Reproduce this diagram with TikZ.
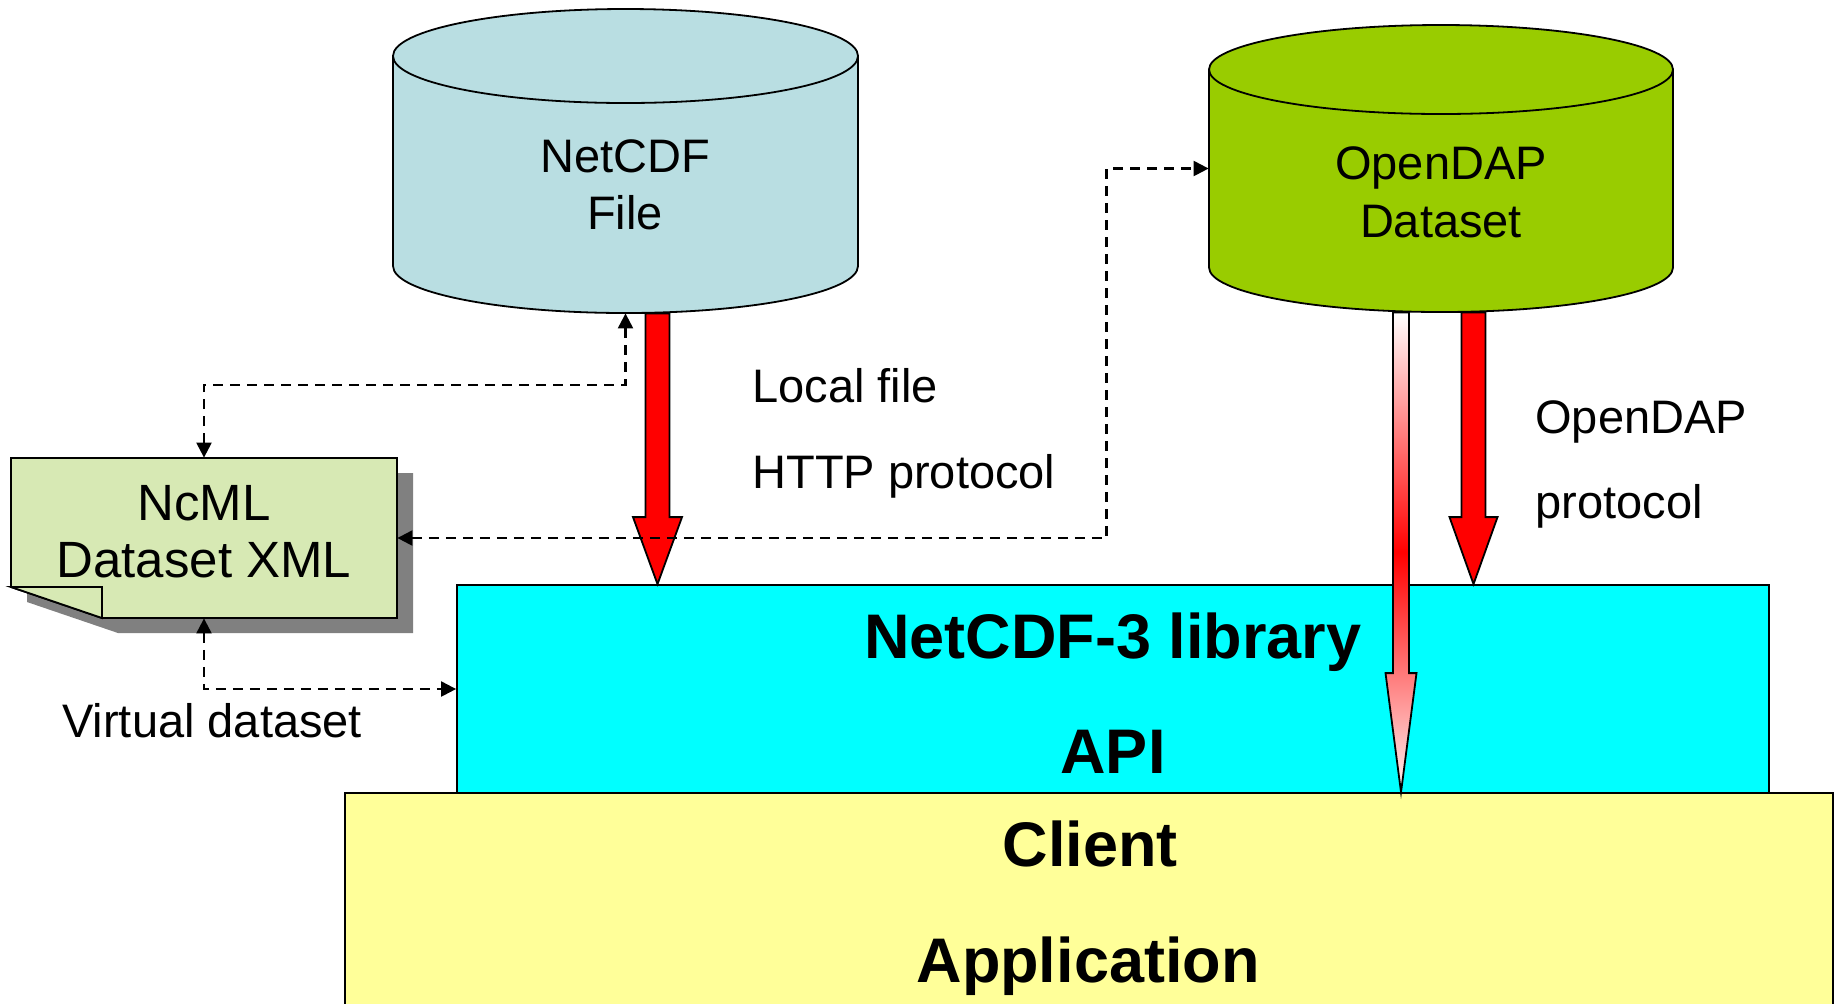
\documentclass[tikz,border=0pt]{standalone}
\usepackage{fontspec}
\setmainfont{Liberation Sans}
\usetikzlibrary{calc}
\usetikzlibrary{arrows.meta}
\definecolor{ncfile}{RGB}{185,222,226}
\definecolor{dapgreen}{RGB}{153,204,0}
\definecolor{ncmlgreen}{RGB}{215,233,180}
\definecolor{apicyan}{RGB}{0,255,255}
\definecolor{clientyellow}{RGB}{255,255,153}
% #1 name, #2 centre x, #3 top, #4 bottom, #5 x radius, #6 y radius, #7 fill
\newcommand{\drum}[7]{ \node[inner sep=0, minimum width={#5pt}, minimum height={(#4-#3)*0.5pt}] (#1) at (#2,{(#3+#4)/2}) {}; \filldraw[fill=#7, line width=0.9pt] ({#2-#5},{#3+#6}) -- ({#2-#5},{#4-#6}) arc[start angle=180, end angle=0, x radius=#5, y radius=#6] -- ({#2+#5},{#3+#6}) -- cycle; \filldraw[fill=#7, line width=0.9pt] (#2,{#3+#6}) ellipse[x radius=#5, y radius=#6];}
% #1 from, #2 tip, #3 half shaft, #4 half head, #5 head length, #6 style
\newcommand{\fatarrow}[6]{ \path[#6] ($(#1)+(-#3,0)$) -- ($(#2)+(-#3,-#5)$) -- ($(#2)+(-#4,-#5)$) -- (#2) -- ($(#2)+(#4,-#5)$) -- ($(#2)+(#3,-#5)$) -- ($(#1)+(#3,0)$) -- cycle;}

\begin{document}
\begin{tikzpicture}[x=0.5pt, y=-0.5pt,
    box/.style={draw, line width=0.9pt, inner sep=0},
    dashlink/.style={dash pattern=on 5pt off 3.5pt, line width=1.1pt, <->, >={Triangle[length=7.5pt,width=7.5pt]}},
    plain/.style={font=\fontsize{23.5}{28}\selectfont, inner sep=0},
    heavy/.style={font=\fontsize{31.5}{36}\selectfont\bfseries, inner sep=0},
    doc/.style={font=\fontsize{25.5}{30}\selectfont, inner sep=0},
    redarrow/.style={fill=red, draw, line width=0.9pt},
    fadearrow/.style={draw, line width=0.9pt, top color=white, bottom color=red!6, middle color=red}]
        \useasboundingbox (0,0) rectangle (1839,1003);
        \clip (0,0) rectangle (1839,1003);
        % stores
        \drum{netcdf}{625.5}{9}{313}{232.5}{47}{ncfile}
        \drum{opendap}{1441}{25}{312}{232}{44.5}{dapgreen}
        % layers
        \node[box, fill=apicyan, minimum width=656pt, minimum height=104pt] (lib) at (1113,689) {};
        \node[box, fill=clientyellow, minimum width=744pt, minimum height=130pt] (client) at (1089,923) {};
        % transfer arrows
        \coordinate (localtop) at (netcdf.south -| 657.5,0);
        \coordinate (localtip) at (lib.north -| 657.5,0);
        \coordinate (daptop) at (opendap.south -| 1473.5,0);
        \coordinate (daptip) at (lib.north -| 1473.5,0);
        \coordinate (fadetop) at (opendap.south -| 1401,0);
        \coordinate (fadetip) at (client.north -| 1401,0);
        \fatarrow{localtop}{localtip}{12}{24.5}{67}{redarrow}
        \fatarrow{daptop}{daptip}{12}{24}{67}{redarrow}
        \fatarrow{fadetop}{fadetip}{8}{15.5}{119}{fadearrow}
        % ncml document
        \fill[gray] (27,473) -- (413,473) -- (413,633) -- (118,633) -- (27,602) -- cycle;
        \filldraw[fill=ncmlgreen, line width=0.9pt] (11,458) -- (397,458) -- (397,618) -- (102,618) -- (11,587) -- cycle;
        \filldraw[fill=ncmlgreen, line width=0.9pt] (11,587) -- (102,587) -- (102,618) -- cycle;
        \node[inner sep=0, minimum width=193pt, minimum height=80pt] (ncml) at (204,538) {};
        % dashed links
        \draw[dashlink] (ncml.north) -- ++(0,-73) -| (netcdf.south);
        \draw[dashlink] (ncml.east) -- ++(709,0) |- (opendap.west);
        \draw[dashlink] (ncml.south) |- (lib.west);
        % texts
        \node[plain, anchor=base] (netcdft1) at (625,172) {NetCDF};
        \node[plain, anchor=base] (netcdft2) at (625,229) {File};
        \node[plain, anchor=base] (opendapt1) at (1441,179) {OpenDAP};
        \node[plain, anchor=base] (opendapt2) at (1441,237) {Dataset};
        \node[doc, anchor=base] (ncmlt1) at (204,520) {NcML};
        \node[doc, anchor=base] (ncmlt2) at (204,577) {Dataset XML};
        \node[plain, anchor=base west] (localtxt) at (752,402) {Local file};
        \node[plain, anchor=base west] (httptxt) at (752,488) {HTTP protocol};
        \node[plain, anchor=base west] (daptxt) at (1535,433) {OpenDAP};
        \node[plain, anchor=base west] (dapproto) at (1535,518) {protocol};
        \node[plain, anchor=base west] (virtual) at (62,737) {Virtual dataset};
        \node[heavy, anchor=base] (libtxt) at (1113,658) {NetCDF-3 library};
        \node[heavy, anchor=base] (apitxt) at (1113,773) {API};
        \node[heavy, anchor=base] (clienttxt) at (1090,866) {Client};
        \node[heavy, anchor=base] (apptxt) at (1088,982) {Application};
\end{tikzpicture}
\end{document}
